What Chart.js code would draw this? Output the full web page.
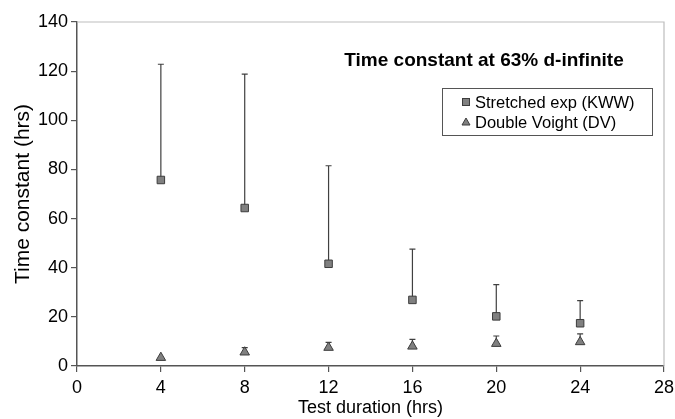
<!DOCTYPE html>
<html>
<head>
<meta charset="utf-8">
<script src="https://cdn.jsdelivr.net/npm/chart.js@4"></script>
<style>
  html, body { margin: 0; padding: 0; background: #fff; }
  #wrap { width: 675px; height: 419px; }
</style>
</head>
<body>
<div id="wrap"><canvas id="c" width="675" height="419"></canvas></div>
<script>
const durations = [4, 8, 12, 16, 20, 24];
const kwwValues = [75.7, 64.3, 41.6, 26.9, 20.2, 17.4];
const kwwUpper  = [122.8, 118.8, 81.5, 47.6, 33.1, 26.6];
const dvValues  = [3.4, 5.6, 7.5, 8.0, 9.1, 9.8];
const dvUpper   = [null, 7.5, 9.6, 10.8, 12.2, 13.1];
const xTicks = [0, 4, 8, 12, 16, 20, 24, 28];
const yTicks = [0, 20, 40, 60, 80, 100, 120, 140];
const seriesNames = ['Stretched exp (KWW)', 'Double Voight (DV)'];
const chartTitle = 'Time constant at 63% d-infinite';

const FONT = "'Liberation Sans', Arial, sans-serif";
const markerFill = '#808080';
const markerEdge = '#3c3c3c';
const barColor = '#404040';

const errorBars = {
  id: 'errorBars',
  beforeDatasetsDraw(chart) {
    const ctx = chart.ctx;
    const xs = chart.scales.x, ys = chart.scales.y;
    const uppers = [kwwUpper, dvUpper];
    const vals = [kwwValues, dvValues];
    ctx.save();
    ctx.strokeStyle = barColor;
    ctx.lineWidth = 1.2;
    uppers.forEach((up, si) => {
      up.forEach((u, i) => {
        if (u == null) return;
        const px = xs.getPixelForValue(durations[i]);
        const py0 = ys.getPixelForValue(vals[si][i]);
        const py1 = ys.getPixelForValue(u);
        ctx.beginPath();
        ctx.moveTo(px, py0);
        ctx.lineTo(px, py1);
        ctx.moveTo(px - 3, py1);
        ctx.lineTo(px + 3, py1);
        ctx.stroke();
      });
    });
    ctx.restore();
  }
};

const frame = {
  id: 'frame',
  beforeDatasetsDraw(chart) {
    const {ctx, chartArea: a} = chart;
    ctx.save();
    ctx.strokeStyle = '#bdbdbd';
    ctx.lineWidth = 1.2;
    ctx.beginPath();
    ctx.moveTo(a.left, a.top);
    ctx.lineTo(a.right, a.top);
    ctx.lineTo(a.right, a.bottom);
    ctx.stroke();
    ctx.restore();
  }
};

const annotations = {
  id: 'annotations',
  afterDraw(chart) {
    const {ctx, chartArea: a} = chart;
    ctx.save();
    ctx.fillStyle = '#000';
    ctx.font = "bold 19px " + FONT;
    ctx.textAlign = 'center';
    ctx.textBaseline = 'alphabetic';
    ctx.fillText(chartTitle, a.right - 180, a.top + 44);
    const bx = a.right - 222, by = a.top + 66, bw = 210, bh = 47;
    ctx.strokeStyle = '#555';
    ctx.lineWidth = 1;
    ctx.strokeRect(bx + 0.5, by + 0.5, bw, bh);
    ctx.font = "16.5px " + FONT;
    ctx.textAlign = 'left';
    ctx.textBaseline = 'middle';
    const mx = bx + 24;
    const y1 = by + 14, y2 = by + 34;
    ctx.fillStyle = markerFill;
    ctx.strokeStyle = markerEdge;
    ctx.fillRect(mx - 3.5, y1 - 3.5, 7, 7);
    ctx.strokeRect(mx - 3.5, y1 - 3.5, 7, 7);
    ctx.beginPath();
    ctx.moveTo(mx, y2 - 4);
    ctx.lineTo(mx + 4, y2 + 3);
    ctx.lineTo(mx - 4, y2 + 3);
    ctx.closePath();
    ctx.fill();
    ctx.stroke();
    ctx.fillStyle = '#000';
    ctx.fillText(seriesNames[0], mx + 9, y1 + 1);
    ctx.fillText(seriesNames[1], mx + 9, y2 + 1);
    ctx.restore();
  }
};

const axisCommon = {
  type: 'linear',
  grid: {
    display: true,
    drawOnChartArea: false,
    drawTicks: true,
    tickLength: 6,
    color: '#555',
    lineWidth: 1.2
  },
  border: { display: true, color: '#555', width: 1.5 }
};

new Chart(document.getElementById('c'), {
  type: 'scatter',
  data: {
    datasets: [
      {
        label: seriesNames[0],
        data: durations.map((d, i) => ({x: d, y: kwwValues[i]})),
        pointStyle: 'rect',
        pointRadius: 5.3,
        backgroundColor: markerFill,
        borderColor: markerEdge,
        borderWidth: 1
      },
      {
        label: seriesNames[1],
        data: durations.map((d, i) => ({x: d, y: dvValues[i]})),
        pointStyle: 'triangle',
        pointRadius: 5.5,
        backgroundColor: markerFill,
        borderColor: markerEdge,
        borderWidth: 1
      }
    ]
  },
  options: {
    responsive: false,
    animation: false,
    layout: { padding: { top: 22, right: 11, left: 0, bottom: 0 } },
    plugins: {
      legend: { display: false },
      tooltip: { enabled: false },
      title: { display: false }
    },
    scales: {
      x: Object.assign({}, axisCommon, {
        min: 0, max: 28,
        afterBuildTicks: (s) => { s.ticks = xTicks.map(v => ({value: v})); },
        afterFit: (s) => { s.height = 53; s.paddingRight = 0; s.paddingLeft = 0; },
        ticks: { color: '#000', font: { family: FONT, size: 18 }, padding: 5, maxRotation: 0, autoSkip: false },
        title: { display: true, text: 'Test duration (hrs)', color: '#000', font: { family: FONT, size: 18 }, padding: { top: 0, bottom: 0 } }
      }),
      y: Object.assign({}, axisCommon, {
        min: 0, max: 140,
        afterBuildTicks: (s) => { s.ticks = yTicks.map(v => ({value: v})); },
        afterFit: (s) => { s.width = 77; s.paddingTop = 0; s.paddingBottom = 0; },
        ticks: { color: '#000', font: { family: FONT, size: 18 }, padding: 3, autoSkip: false },
        title: { display: true, text: 'Time constant (hrs)', color: '#000', font: { family: FONT, size: 21 }, padding: { top: 11, bottom: 0 } }
      })
    }
  },
  plugins: [frame, errorBars, annotations]
});
</script>
</body>
</html>
